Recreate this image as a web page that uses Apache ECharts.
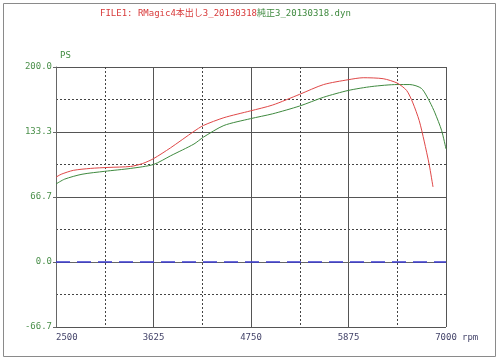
<!DOCTYPE html>
<html>
<head>
<meta charset="utf-8">
<script src="https://cdn.jsdelivr.net/npm/echarts@6/dist/echarts.min.js"></script>
<style>
  html, body { margin: 0; padding: 0; background: #fff; }
  #main { width: 500px; height: 362px; }
</style>
</head>
<body>
<div id="main"></div>
<script type="text/javascript">
    // FILE1 (red) - rpm / PS
    var rpmFile1 = [2500, 2560, 2700, 2900, 3100, 3360, 3500, 3625, 3820, 4092, 4200, 4437, 4744, 5000, 5312, 5588, 5875, 6045, 6275, 6437, 6545, 6614, 6691, 6748, 6806, 6850];
    var psFile1  = [87, 90, 94, 96, 97, 98, 101, 106, 117, 134, 140, 148, 155, 161, 172, 182, 187, 189, 188, 183.5, 176, 164, 145, 124, 100, 77];
    // FILE2 (green)
    var rpmFile2 = [2500, 2600, 2800, 3062, 3363, 3625, 3824, 4092, 4200, 4437, 4744, 5000, 5312, 5588, 5875, 6145, 6437, 6583, 6717, 6814, 6872, 6949, 7000];
    var psFile2  = [80, 85, 90, 93, 96, 100, 109, 121, 128, 140, 147, 152, 160, 169, 176, 180, 182, 182, 178, 164, 153, 135, 116];

    var step = 200 / 3;
    var mono = '"DejaVu Sans Mono", "Noto Sans CJK JP", monospace';

    function pairs(xs, ys) {
        var out = [];
        for (var i = 0; i < xs.length; i++) out.push([xs[i], ys[i]]);
        return out;
    }

    var myChart = echarts.init(document.getElementById('main'));

    var option = {
        backgroundColor: '#fff',
        animation: false,
        grid: { left: 56, right: 54, top: 67, bottom: 35 },
        graphic: [
            { type: 'rect', shape: { x: 3.5, y: 3.5, width: 492, height: 353 },
              style: { fill: 'none', stroke: '#8a8a8a', lineWidth: 1 }, silent: true },
            { type: 'text', left: 100, top: 9,
              style: { text: 'FILE1: RMagic4本出し3_20130318.dyn', fill: '#d83a3a', font: '9px ' + mono } },
            { type: 'text', left: 257, top: 9,
              style: { text: '純正3_20130318.dyn', fill: '#3f8a3f', font: '9px ' + mono, backgroundColor: '#fff' } },
            { type: 'text', left: 60, top: 51,
              style: { text: 'PS', fill: '#3f8a3f', font: '9px ' + mono } },
            { type: 'text', left: 462, top: 333,
              style: { text: 'rpm', fill: '#44446a', font: '9px ' + mono } }
        ],
        xAxis: {
            type: 'value',
            min: 2500,
            max: 7000,
            interval: 1125,
            axisLine: { show: true, lineStyle: { color: '#666', width: 1 } },
            axisTick: { show: false },
            axisLabel: {
                color: '#44446a', fontFamily: mono, fontSize: 9, margin: 6,
                alignMinLabel: 'left',
                formatter: function (v) { return String(Math.round(v)); }
            },
            splitLine: { show: true, lineStyle: { color: '#555', width: 1 } },
            minorTick: { show: false, splitNumber: 2 },
            minorSplitLine: { show: true, lineStyle: { color: '#444', width: 1, type: [2, 2] } }
        },
        yAxis: {
            type: 'value',
            min: -step,
            max: 200,
            interval: step,
            axisLine: { show: true, lineStyle: { color: '#666', width: 1 } },
            axisTick: { show: true, length: 3, lineStyle: { color: '#666' } },
            axisLabel: {
                color: '#4a8f4a', fontFamily: mono, fontSize: 9, margin: 4,
                formatter: function (v) {
                    if (Math.abs(v) < 1e-6) v = 0;
                    return v.toFixed(1);
                }
            },
            splitLine: { show: true, lineStyle: { color: '#555', width: 1 } },
            minorTick: { show: false, splitNumber: 2 },
            minorSplitLine: { show: true, lineStyle: { color: '#444', width: 1, type: [2, 2] } }
        },
        series: [
            {
                name: 'FILE2',
                type: 'line',
                showSymbol: false,
                smooth: 0.25,
                data: pairs(rpmFile2, psFile2),
                lineStyle: { color: '#3f8a3f', width: 1 },
                markLine: {
                    silent: true,
                    symbol: 'none',
                    label: { show: false },
                    lineStyle: { color: '#3a3ad0', width: 1.5, type: [14, 7] },
                    data: [{ yAxis: 0 }]
                }
            },
            {
                name: 'FILE1',
                type: 'line',
                showSymbol: false,
                smooth: 0.25,
                data: pairs(rpmFile1, psFile1),
                lineStyle: { color: '#e04848', width: 1 }
            }
        ]
    };

    myChart.setOption(option);
</script>
</body>
</html>
